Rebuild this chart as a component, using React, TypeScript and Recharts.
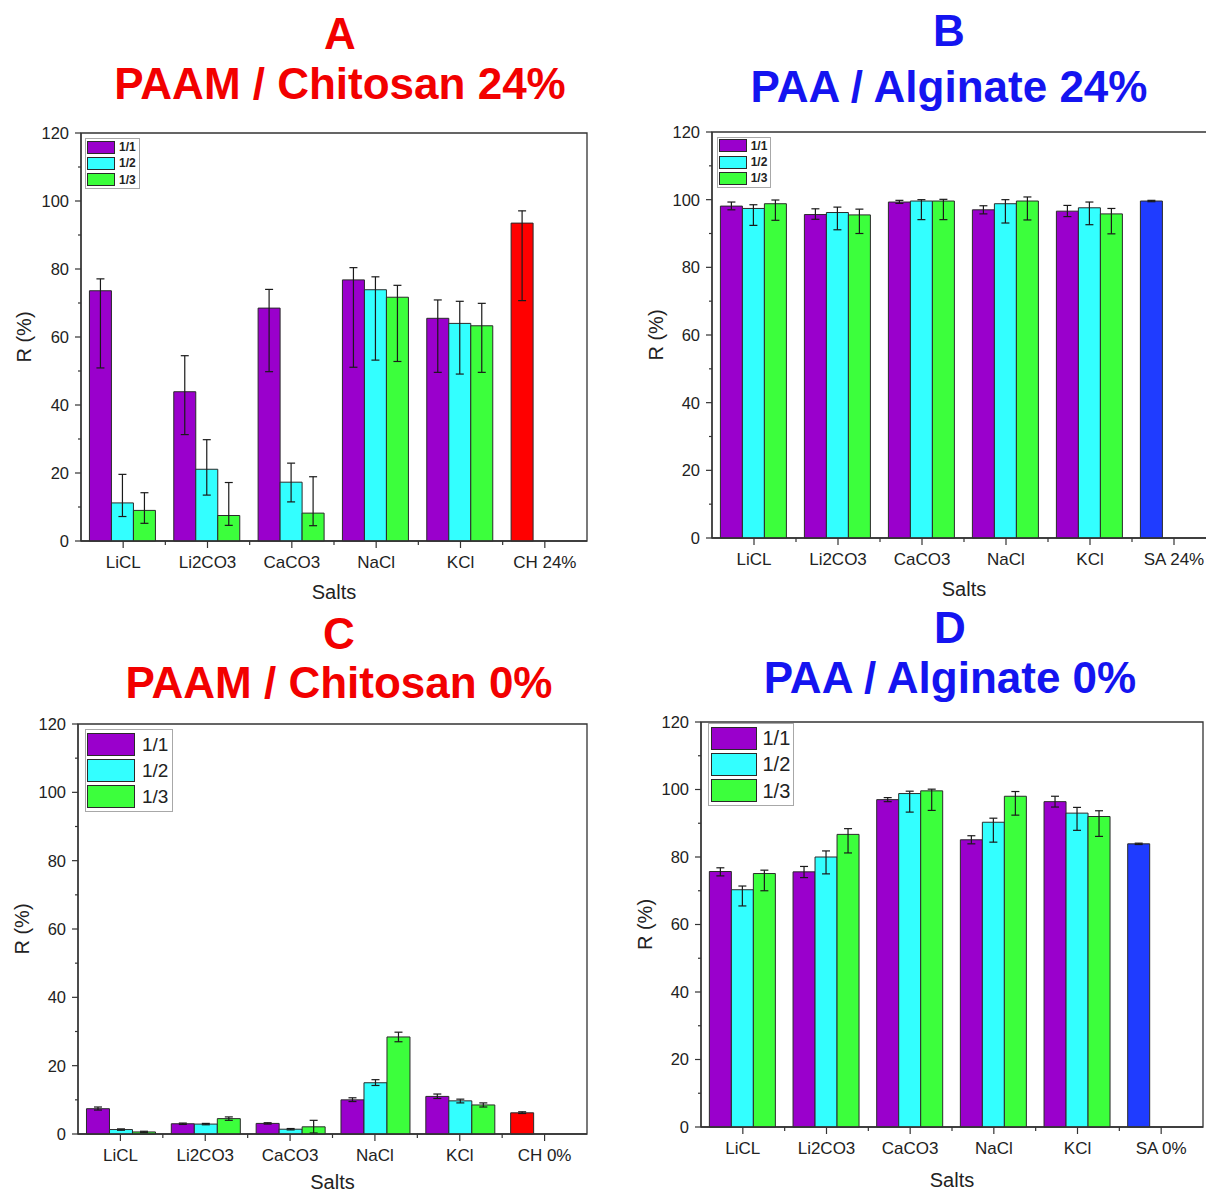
import React from 'react'
import { BarChart, Bar, XAxis, YAxis, ErrorBar, Cell, Legend, ReferenceArea } from 'recharts'

// shared categories / series
const salts = ['LiCL', 'Li2CO3', 'CaCO3', 'NaCl', 'KCl']
const ratioNames = ['1/1', '1/2', '1/3']
const yTicks = [0, 10, 20, 30, 40, 50, 60, 70, 80, 90, 100, 110, 120]

// A: PAAM / Chitosan 24%  (means, then whisker ends [low, high])
const a11 = [73.6, 43.9, 68.5, 76.8, 65.5]
const a12 = [11.2, 21.1, 17.3, 73.9, 64.0]
const a13 = [9.0, 7.5, 8.2, 71.7, 63.3]
const a11Range = [[50.9, 77.1], [31.3, 54.5], [49.8, 74.0], [51.1, 80.4], [49.6, 70.9]]
const a12Range = [[7.2, 19.6], [13.5, 29.8], [11.5, 22.9], [53.2, 77.7], [49.1, 70.5]]
const a13Range = [[5.2, 14.2], [4.6, 17.2], [4.5, 18.9], [52.8, 75.2], [49.6, 69.9]]
const aCtrlName = 'CH 24%'
const aCtrl = 93.5
const aCtrlRange = [70.7, 97.1]

// B: PAA / Alginate 24%
const b11 = [98.1, 95.6, 99.3, 97.0, 96.6]
const b12 = [97.4, 96.2, 99.6, 98.8, 97.6]
const b13 = [98.8, 95.5, 99.6, 99.6, 95.8]
const b11Range = [[97.0, 99.3], [94.2, 97.3], [98.9, 99.8], [95.8, 98.2], [95.0, 98.3]]
const b12Range = [[92.4, 98.5], [91.1, 97.8], [94.1, 100.0], [93.1, 100.0], [92.6, 99.3]]
const b13Range = [[93.9, 99.9], [90.0, 97.2], [94.1, 100.1], [94.0, 100.8], [89.9, 97.4]]
const bCtrlName = 'SA 24%'
const bCtrl = 99.6
const bCtrlRange = [99.4, 99.8]

// C: PAAM / Chitosan 0%
const c11 = [7.4, 3.0, 3.1, 10.0, 11.0]
const c12 = [1.3, 2.9, 1.4, 15.0, 9.7]
const c13 = [0.6, 4.5, 2.1, 28.4, 8.5]
const c11Range = [[7.0, 7.9], [2.8, 3.2], [2.9, 3.3], [9.5, 10.6], [10.4, 11.7]]
const c12Range = [[1.1, 1.5], [2.7, 3.1], [1.2, 1.6], [14.2, 15.9], [9.1, 10.2]]
const c13Range = [[0.4, 0.8], [4.0, 5.0], [0.3, 4.0], [27.0, 29.8], [7.9, 9.1]]
const cCtrlName = 'CH 0%'
const cCtrl = 6.2
const cCtrlRange = [6.0, 6.5]

// D: PAA / Alginate 0%
const d11 = [75.7, 75.6, 97.0, 85.1, 96.4]
const d12 = [70.3, 80.0, 98.8, 90.3, 93.0]
const d13 = [75.1, 86.7, 99.6, 98.0, 92.0]
const d11Range = [[74.4, 76.8], [73.9, 77.2], [96.4, 97.6], [83.9, 86.3], [94.8, 98.0]]
const d12Range = [[65.5, 71.4], [75.0, 81.8], [93.3, 99.5], [84.4, 91.5], [87.9, 94.7]]
const d13Range = [[70.0, 76.1], [81.2, 88.4], [93.8, 100.1], [92.4, 99.4], [86.1, 93.7]]
const dCtrlName = 'SA 0%'
const dCtrl = 83.9
const dCtrlRange = [83.7, 84.1]

const PURPLE = '#9a00cc'
const CYAN = '#33ffff'
const GREEN = '#3cff3c'
const RED = '#ff0000'
const BLUE = '#1f3cff'
const TITLE_RED = '#f20000'
const TITLE_BLUE = '#1414f0'
const AXIS = '#333'
const EDGE = '#2a2a2a'
const FONT = '"Liberation Sans", Arial, Helvetica, sans-serif'

const Y_AXIS_W = 60
const X_AXIS_H = 30
const Y_MAJOR = 6
const Y_MINOR = 3
const Y_GAP = 6
const X_MAJOR = 7
const X_MINOR = 4
const X_GAP = 8

// whisker ends -> [minus, plus] deviations for ErrorBar
const dev = (v: number, r: number[]) => [+(v - r[0]).toFixed(2), +(r[1] - v).toFixed(2)]

function buildRows(
  s11: number[], s12: number[], s13: number[],
  r11: number[][], r12: number[][], r13: number[][],
  ctrlName: string, ctrl: number, ctrlRange: number[],
) {
  const rows: any[] = salts.map((name, i) => ({
    name,
    r11: s11[i], e11: dev(s11[i], r11[i]),
    r12: s12[i], e12: dev(s12[i], r12[i]),
    r13: s13[i], e13: dev(s13[i], r13[i]),
  }))
  rows.push({ name: ctrlName, r11: ctrl, e11: dev(ctrl, ctrlRange), r12: null, e12: null, r13: null, e13: null })
  return rows
}

const rowsA = buildRows(a11, a12, a13, a11Range, a12Range, a13Range, aCtrlName, aCtrl, aCtrlRange)
const rowsB = buildRows(b11, b12, b13, b11Range, b12Range, b13Range, bCtrlName, bCtrl, bCtrlRange)
const rowsC = buildRows(c11, c12, c13, c11Range, c12Range, c13Range, cCtrlName, cCtrl, cCtrlRange)
const rowsD = buildRows(d11, d12, d13, d11Range, d12Range, d13Range, dCtrlName, dCtrl, dCtrlRange)

function YTick(props: any) {
  const { x, y, payload } = props
  const axisX = x + Y_MAJOR + Y_GAP
  const major = payload.value % 20 === 0
  return (
    <g>
      <line x1={axisX - (major ? Y_MAJOR : Y_MINOR)} x2={axisX} y1={y} y2={y} stroke={AXIS} strokeWidth={1.2} />
      {major && (
        <text x={x} y={y} dy="0.36em" textAnchor="end" fontSize={16.5} fill="#222">
          {payload.value}
        </text>
      )}
    </g>
  )
}

function XTick(props: any) {
  const { x, y, payload, index, half } = props
  const axisY = y - X_MAJOR - X_GAP
  return (
    <g>
      <line x1={x} x2={x} y1={axisY} y2={axisY + X_MAJOR} stroke={AXIS} strokeWidth={1.2} />
      {index > 0 && (
        <line x1={x - half} x2={x - half} y1={axisY} y2={axisY + X_MINOR} stroke={AXIS} strokeWidth={1.2} />
      )}
      <text x={x} y={y} dy="0.71em" textAnchor="middle" fontSize={17} fill="#222">
        {payload.value}
      </text>
    </g>
  )
}

type LegendStyle = { patchW: number; patchH: number; rowH: number; gap: number; font: number; bold: boolean; pad: string }

function RatioLegend({ payload, look }: { payload?: any[]; look: LegendStyle }) {
  return (
    <div style={{ border: '1px solid #a8a8a8', background: '#fff', padding: look.pad, fontFamily: FONT }}>
      {(payload || []).map((p: any) => (
        <div key={p.value} style={{ display: 'flex', alignItems: 'center', height: look.rowH }}>
          <div style={{
            width: look.patchW, height: look.patchH, background: p.color,
            border: `1px solid ${EDGE}`, boxSizing: 'border-box',
          }} />
          <span style={{ marginLeft: look.gap, fontSize: look.font, fontWeight: look.bold ? 700 : 400, color: '#222', lineHeight: 1 }}>
            {p.value}
          </span>
        </div>
      ))}
    </div>
  )
}

const smallLegend: LegendStyle = { patchW: 28, patchH: 13, rowH: 16.3, gap: 4, font: 12, bold: true, pad: '0 3px 0 1px' }
const bigLegendC: LegendStyle = { patchW: 48, patchH: 23, rowH: 26, gap: 7, font: 19, bold: false, pad: '1.5px 4px 1.5px 1px' }
const bigLegendD: LegendStyle = { patchW: 46, patchH: 23, rowH: 26.3, gap: 6, font: 20, bold: false, pad: '1px 3px 1px 2px' }

type PanelProps = {
  rows: any[]
  ctrlColor: string
  box: { left: number; top: number; width: number; height: number }
  margin: { top: number; right: number; bottom: number; left: number }
  legendAt: { left: number; top: number }
  legendLook: LegendStyle
  yLabelOffset: number
  xLabelOffset: number
}

function Panel({ rows, ctrlColor, box, margin, legendAt, legendLook, yLabelOffset, xLabelOffset }: PanelProps) {
  const half = (box.width - margin.left - margin.right - Y_AXIS_W) / rows.length / 2
  const last = rows.length - 1
  const fills = [PURPLE, CYAN, GREEN]
  const keys = ['r11', 'r12', 'r13']
  const errKeys = ['e11', 'e12', 'e13']
  return (
    <div style={{ position: 'absolute', left: box.left, top: box.top }}>
      <BarChart width={box.width} height={box.height} data={rows} margin={margin} barCategoryGap="10%" barGap={0}>
        <XAxis
          dataKey="name"
          interval={0}
          height={X_AXIS_H}
          tickSize={X_MAJOR}
          tickMargin={X_GAP}
          tickLine={false}
          tick={<XTick half={half} />}
          axisLine={{ stroke: AXIS, strokeWidth: 1.3 }}
          label={{ value: 'Salts', position: 'bottom', offset: xLabelOffset, fontSize: 20, fill: '#222' }}
        />
        <YAxis
          domain={[0, 120]}
          ticks={yTicks}
          interval={0}
          width={Y_AXIS_W}
          tickSize={Y_MAJOR}
          tickMargin={Y_GAP}
          tickLine={false}
          tick={<YTick />}
          axisLine={{ stroke: AXIS, strokeWidth: 1.3 }}
          label={{
            value: 'R (%)', angle: -90, position: 'insideLeft', offset: yLabelOffset,
            fontSize: 20, fill: '#222', style: { textAnchor: 'middle' },
          }}
        />
        <Legend
          layout="vertical"
          align="center"
          verticalAlign="middle"
          wrapperStyle={{ left: legendAt.left, top: legendAt.top, width: 'auto', height: 'auto' }}
          content={(p: any) => <RatioLegend payload={p.payload} look={legendLook} />}
        />
        {keys.map((k, s) => (
          <Bar
            key={k}
            dataKey={k}
            name={ratioNames[s]}
            fill={fills[s]}
            stroke={EDGE}
            strokeWidth={1}
            isAnimationActive={false}
          >
            {s === 0 && rows.map((_, i) => <Cell key={i} fill={i === last ? ctrlColor : PURPLE} />)}
            <ErrorBar dataKey={errKeys[s]} direction="y" width={4} stroke="#1a1a1a" strokeWidth={1.2} />
          </Bar>
        ))}
        {/* plot frame (top and right edges) */}
        <ReferenceArea y1={0} y2={120} fill="none" stroke={AXIS} strokeWidth={1.3} ifOverflow="visible" />
      </BarChart>
    </div>
  )
}

function Title({ cx, top, text, color }: { cx: number; top: number; text: string; color: string }) {
  return (
    <div style={{
      position: 'absolute', left: cx - 320, top, width: 640, textAlign: 'center',
      fontFamily: FONT, fontWeight: 700, fontSize: 44, lineHeight: '44px', color, whiteSpace: 'nowrap',
    }}>
      {text}
    </div>
  )
}

export default function App() {
  return (
    <div style={{
      position: 'absolute', left: 0, top: 0, width: 1206, height: 1194,
      overflow: 'hidden', background: '#fff', fontFamily: FONT,
    }}>
      <Title cx={340} top={11.8} text="A" color={TITLE_RED} />
      <Title cx={340} top={61.5} text="PAAM / Chitosan 24%" color={TITLE_RED} />
      <Title cx={949} top={9.3} text="B" color={TITLE_BLUE} />
      <Title cx={949} top={65} text="PAA / Alginate 24%" color={TITLE_BLUE} />
      <Title cx={339} top={612} text="C" color={TITLE_RED} />
      <Title cx={339} top={661} text="PAAM / Chitosan 0%" color={TITLE_RED} />
      <Title cx={950} top={606} text="D" color={TITLE_BLUE} />
      <Title cx={950} top={656} text="PAA / Alginate 0%" color={TITLE_BLUE} />

      <Panel
        rows={rowsA}
        ctrlColor={RED}
        box={{ left: 0, top: 110, width: 600, height: 505 }}
        margin={{ top: 23, right: 13, bottom: 44, left: 21 }}
        legendAt={{ left: 85, top: 28 }}
        legendLook={smallLegend}
        yLabelOffset={2.5}
        xLabelOffset={14}
      />
      <Panel
        rows={rowsB}
        ctrlColor={BLUE}
        box={{ left: 620, top: 110, width: 620, height: 505 }}
        margin={{ top: 22, right: 24, bottom: 47, left: 32 }}
        legendAt={{ left: 96.7, top: 26.7 }}
        legendLook={smallLegend}
        yLabelOffset={4}
        xLabelOffset={14}
      />
      <Panel
        rows={rowsC}
        ctrlColor={RED}
        box={{ left: 0, top: 700, width: 600, height: 494 }}
        margin={{ top: 24, right: 13, bottom: 30, left: 18 }}
        legendAt={{ left: 85, top: 29 }}
        legendLook={bigLegendC}
        yLabelOffset={4}
        xLabelOffset={11}
      />
      <Panel
        rows={rowsD}
        ctrlColor={BLUE}
        box={{ left: 620, top: 700, width: 600, height: 494 }}
        margin={{ top: 22, right: 17, bottom: 37, left: 21 }}
        legendAt={{ left: 87.5, top: 23 }}
        legendLook={bigLegendD}
        yLabelOffset={3.5}
        xLabelOffset={16}
      />
    </div>
  )
}
